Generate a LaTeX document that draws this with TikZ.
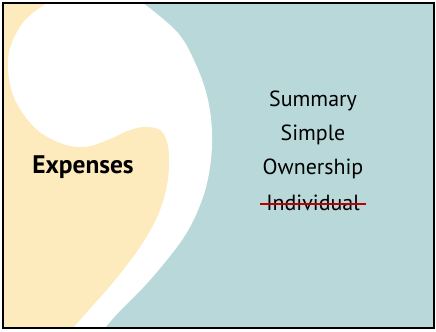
\documentclass[tikz,border=0pt]{standalone}
\usepackage{fontspec}
\usepackage{tikz}
\usetikzlibrary{positioning}
\newfontfamily\slidefont{PT Sans}
\definecolor{teal}{HTML}{B8D8DA}
\definecolor{sand}{HTML}{FDEBBE}
\definecolor{strikered}{HTML}{C00000}

\begin{document}
\begin{tikzpicture}[x=1bp,y=-1bp]
		\tikzstyle{ItemStyle}=[font=\slidefont\fontsize{22}{25}\selectfont,text=black,inner sep=0pt]
		\tikzstyle{TitleStyle}=[font=\slidefont\bfseries\fontsize{25.5}{28}\selectfont,text=black,inner sep=0pt]
		\tikzstyle{StrikeStyle}=[draw=strikered,line width=2bp]
		\useasboundingbox (0,0) rectangle (436,331);
		\fill[white] (0,0) rectangle (436,331);
		\fill[teal] (3,3) rectangle (434,328);
		% white comma
		\fill[white] (3,3) -- plot[smooth,tension=0.6] coordinates {(143,3) (178,33) (197,67) (208,100) (212,133) (210,167) (202,200) (184,237) (150,280) (118,313) (105,328)} -- (3,328) -- cycle;
		\fill[sand] (3,3) -- plot[smooth,tension=0.6] coordinates {(47,3) (25,20) (11,45) (8,70) (15,100) (35,128) (60,143) (85,147) (110,139) (130,130) (145,127) (160,130) (167,142) (169,160) (167,185) (158,215) (140,247) (115,280) (87,312) (73,328)} -- (3,328) -- cycle;
		\draw[line width=2.5bp] (3,3) rectangle (434,328);
		% labels
		\node[TitleStyle] (expenses) at (83,167) {Expenses};
		\node[ItemStyle] (summary) at (313,101) {Summary};
		\node[ItemStyle] (simple) at (313,135) {Simple};
		\node[ItemStyle] (ownership) at (313,169) {Ownership};
		\node[ItemStyle] (individual) at (313,203) {Individual};
		\draw[StrikeStyle] ([xshift=-6bp,yshift=-1bp]individual.west) -- ([xshift=6bp,yshift=-1bp]individual.east);
	\end{tikzpicture}
\end{document}
